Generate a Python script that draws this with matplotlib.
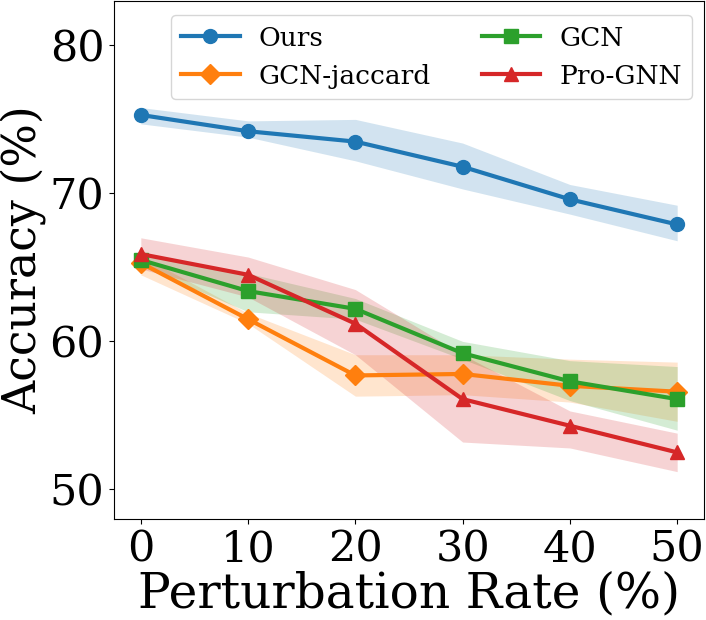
import matplotlib
matplotlib.use("Agg")
import matplotlib.pyplot as plt

rates = [0, 10, 20, 30, 40, 50]

ours = [75.3, 74.2, 73.5, 71.8, 69.6, 67.9]
ours_lo = [74.7, 73.8, 72.2, 70.3, 68.6, 66.8]
ours_hi = [75.8, 74.9, 75.0, 73.4, 70.6, 69.2]

jaccard = [65.3, 61.5, 57.7, 57.8, 57.0, 56.6]
jaccard_lo = [64.5, 61.2, 56.3, 56.4, 55.9, 54.6]
jaccard_hi = [65.8, 61.9, 59.1, 59.1, 58.8, 58.6]

gcn = [65.5, 63.4, 62.2, 59.2, 57.3, 56.1]
gcn_lo = [65.1, 62.0, 61.5, 58.8, 56.0, 54.0]
gcn_hi = [65.9, 64.6, 62.9, 60.0, 58.7, 58.3]

prognn = [65.9, 64.5, 61.2, 56.1, 54.3, 52.5]
prognn_lo = [64.9, 63.0, 59.1, 53.2, 52.8, 51.2]
prognn_hi = [67.0, 65.7, 63.5, 59.1, 55.3, 53.8]

series = [
    ("Ours", ours, ours_lo, ours_hi, "#1f77b4", "o"),
    ("GCN-jaccard", jaccard, jaccard_lo, jaccard_hi, "#ff7f0e", "D"),
    ("GCN", gcn, gcn_lo, gcn_hi, "#2ca02c", "s"),
    ("Pro-GNN", prognn, prognn_lo, prognn_hi, "#d62728", "^"),
]

fig = plt.figure(figsize=(7.06, 6.2), dpi=100)
ax = fig.add_axes([114 / 706, 101 / 620, 590 / 706, 518 / 620])

for name, vals, lo, hi, col, mk in series:
    ax.fill_between(rates, lo, hi, color=col, alpha=0.2, lw=0)
    ax.plot(rates, vals, marker=mk, ms=10, lw=3, color=col, label=name)

ax.set_xlim(-2.5, 52.5)
ax.set_ylim(48, 83)
ax.set_xticks(rates)
ax.set_yticks([50, 60, 70, 80])
ax.tick_params(labelsize=31)
for t in ax.get_xticklabels() + ax.get_yticklabels():
    t.set_family("DejaVu Serif")
ax.set_xlabel("Perturbation Rate (%)", fontsize=35, family="DejaVu Serif", labelpad=0)
ax.set_ylabel("Accuracy (%)", fontsize=33, family="DejaVu Serif")
ax.yaxis.set_label_coords(-0.113, 0.5)

ax.legend(ncol=2, loc="upper right", prop={"family": "DejaVu Serif", "size": 19},
          bbox_to_anchor=(0.98, 0.973), borderaxespad=0, columnspacing=1.95,
          handlelength=2.2, handletextpad=0.72)

fig.savefig("out.png", dpi=100)
